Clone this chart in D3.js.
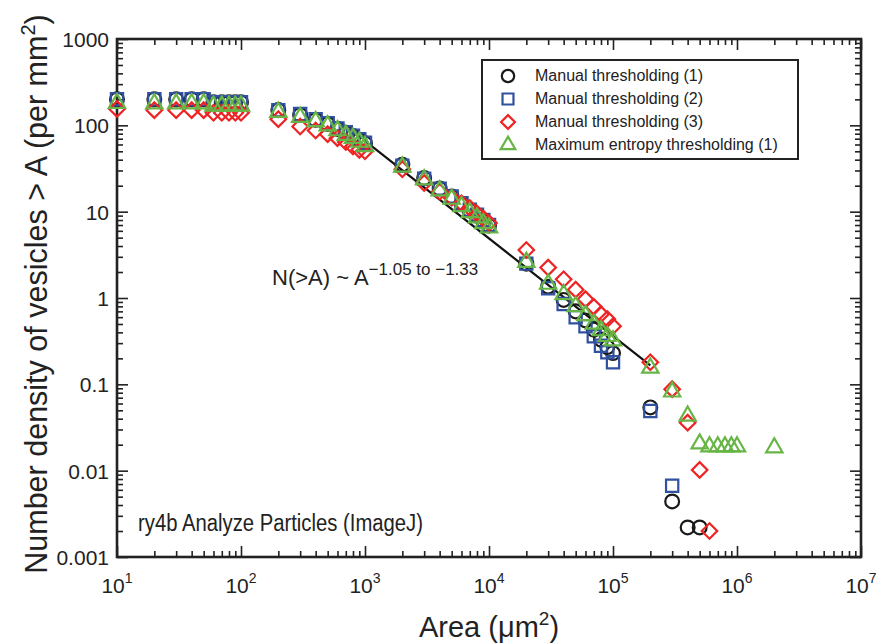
<!DOCTYPE html>
<html>
<head>
<meta charset="utf-8">
<script src="https://cdn.jsdelivr.net/npm/d3@7"></script>
<style>
  body { margin: 0; background: #fff; }
  svg { font-family: "Liberation Sans", Arial, sans-serif; }
</style>
</head>
<body>
<div id="container"></div>
<script>
// area thresholds (um^2) and number density (per mm^2) for each run
let areas_m1 = [10,20,30,40,50,60,70,80,90,100,200,300,400,500,600,700,800,900,1000,
  2000,3000,4000,5000,6000,7000,8000,9000,10000,2e4,3e4,4e4,5e4,6e4,7e4,8e4,9e4,1e5,2e5,3e5,4e5,5e5];
let dens_m1 = [200,200,200,200,200,185,185,185,185,185,150,132,116,104,91,82,75,68,62,
  35,24.5,18.5,15,12.3,10.3,9,7.8,6.9,2.5,1.35,0.95,0.7,0.55,0.43,0.33,0.27,0.23,0.054,0.0044,0.0022,0.0022];

let areas_m2 = [10,20,30,40,50,60,70,80,90,100,200,300,400,500,600,700,800,900,1000,
  2000,3000,4000,5000,6000,7000,8000,9000,10000,2e4,3e4,4e4,5e4,6e4,7e4,8e4,9e4,1e5,2e5,3e5];
let dens_m2 = [200,200,200,200,200,185,185,185,185,185,150,135,118,106,92,83,76,69,63,
  34,24,18.5,15,12.5,10.5,9.2,8,7,2.5,1.3,0.85,0.6,0.47,0.36,0.28,0.235,0.18,0.049,0.0067];

let areas_m3 = [10,20,30,40,50,60,70,80,90,100,200,300,400,500,600,700,800,900,1000,
  2000,3000,4000,5000,6000,7000,8000,9000,10000,2e4,3e4,4e4,5e4,6e4,7e4,8e4,9e4,1e5,2e5,3e5,4e5,5e5,6e5];
let dens_m3 = [155,150,150,150,150,140,140,140,140,140,118,97,87,79,71,64,57,52,50,
  31,21.5,17,14.5,12.5,11,9.5,8.3,7.4,3.6,2.25,1.65,1.25,0.97,0.79,0.65,0.57,0.47,0.18,0.088,0.036,0.0102,0.002];

let areas_me = [10,20,30,40,50,60,70,80,90,100,200,300,400,500,600,700,800,900,1000,
  2000,3000,4000,5000,6000,7000,8000,9000,10000,2e4,3e4,4e4,5e4,6e4,7e4,8e4,9e4,1e5,2e5,3e5,4e5,5e5,
  6e5,7e5,8e5,9e5,1e6,2e6];
let dens_me = [180,178,178,178,178,168,168,168,168,168,142,124,111,99,87,77,71,64,57,
  33,23.5,17.5,14,11.5,9.8,8.5,7.3,6.5,2.6,1.45,1.1,0.8,0.63,0.5,0.42,0.36,0.32,0.155,0.082,0.043,0.0205,
  0.019,0.019,0.019,0.019,0.019,0.0185];

// power-law fit line end points
let fit_areas = [1000, 2e5];
let fit_dens = [66, 0.166];

let series_names = ["Manual thresholding (1)", "Manual thresholding (2)",
  "Manual thresholding (3)", "Maximum entropy thresholding (1)"];

let x_major = [1e1, 1e2, 1e3, 1e4, 1e5, 1e6, 1e7];
let x_exponents = ["1", "2", "3", "4", "5", "6", "7"];
let y_major = [0.001, 0.01, 0.1, 1, 10, 100, 1000];
let y_labels = ["0.001", "0.01", "0.1", "1", "10", "100", "1000"];

let width = 882, height = 644;
let margin = { top: 39, right: 21, bottom: 87, left: 117 };

let svg = d3.select("#container").append("svg")
  .attr("width", width).attr("height", height);

let x = d3.scaleLog().domain([10, 1e7]).range([margin.left, width - margin.right]);
let y = d3.scaleLog().domain([0.001, 1000]).range([height - margin.bottom, margin.top]);

let x_minor = x.ticks().filter(function (d) { return x_major.indexOf(d) < 0; });
let y_minor = y.ticks().filter(function (d) { return !y_major.some(function (m) { return Math.abs(m - d) / m < 1e-6; }); });

function styleAxis(g) {
  g.select(".domain").remove();
  g.selectAll("line").attr("stroke", "#222").attr("stroke-width", 1.6);
  g.selectAll("text").remove();
}

let x0 = height - margin.bottom, x1 = margin.top;
let y0 = margin.left, y1 = width - margin.right;

// inward ticks on all four sides
svg.append("g").attr("transform", "translate(0," + x0 + ")")
  .call(d3.axisBottom(x).tickValues(x_major).tickSize(-11)).call(styleAxis);
svg.append("g").attr("transform", "translate(0," + x0 + ")")
  .call(d3.axisBottom(x).tickValues(x_minor).tickSize(-6)).call(styleAxis);
svg.append("g").attr("transform", "translate(0," + x1 + ")")
  .call(d3.axisTop(x).tickValues(x_major).tickSize(-11)).call(styleAxis);
svg.append("g").attr("transform", "translate(0," + x1 + ")")
  .call(d3.axisTop(x).tickValues(x_minor).tickSize(-6)).call(styleAxis);
svg.append("g").attr("transform", "translate(" + y0 + ",0)")
  .call(d3.axisLeft(y).tickValues(y_major).tickSize(-11)).call(styleAxis);
svg.append("g").attr("transform", "translate(" + y0 + ",0)")
  .call(d3.axisLeft(y).tickValues(y_minor).tickSize(-6)).call(styleAxis);
svg.append("g").attr("transform", "translate(" + y1 + ",0)")
  .call(d3.axisRight(y).tickValues(y_major).tickSize(-11)).call(styleAxis);
svg.append("g").attr("transform", "translate(" + y1 + ",0)")
  .call(d3.axisRight(y).tickValues(y_minor).tickSize(-6)).call(styleAxis);

svg.append("rect")
  .attr("x", y0).attr("y", x1)
  .attr("width", y1 - y0).attr("height", x0 - x1)
  .attr("fill", "none").attr("stroke", "#222").attr("stroke-width", 2.6);

// tick labels
let xl = svg.append("g").selectAll("text").data(x_major).enter().append("text")
  .attr("x", function (d) { return x(d); })
  .attr("y", x0 + 36)
  .attr("text-anchor", "middle")
  .attr("font-size", 21)
  .attr("fill", "#222");
xl.append("tspan").text("10");
xl.append("tspan").attr("dy", -10).attr("font-size", 14)
  .text(function (d, i) { return x_exponents[i]; });

svg.append("g").selectAll("text").data(y_major).enter().append("text")
  .attr("x", y0 - 8)
  .attr("y", function (d) { return y(d) + 8; })
  .attr("text-anchor", "end")
  .attr("font-size", 21)
  .attr("fill", "#222")
  .text(function (d, i) { return y_labels[i]; });

// axis titles
let xt = svg.append("text")
  .attr("x", 489).attr("y", 637)
  .attr("text-anchor", "middle").attr("font-size", 29).attr("fill", "#222");
xt.append("tspan").text("Area (\u03bcm");
xt.append("tspan").attr("dy", -12).attr("font-size", 19).text("2");
xt.append("tspan").attr("dy", 12).text(")");

let yt = svg.append("text")
  .attr("transform", "translate(47," + ((x0 + x1) / 2 - 4) + ") rotate(-90)")
  .attr("text-anchor", "middle").attr("font-size", 30.5).attr("fill", "#222");
yt.append("tspan").text("Number density of vesicles > A (per mm");
yt.append("tspan").attr("dy", -12).attr("font-size", 20).text("2");
yt.append("tspan").attr("dy", 12).text(")");

// fit line
let line = d3.line()
  .x(function (d) { return x(d[0]); })
  .y(function (d) { return y(d[1]); });
svg.append("path")
  .datum(d3.zip(fit_areas, fit_dens))
  .attr("d", line)
  .attr("fill", "none").attr("stroke", "#111").attr("stroke-width", 2.2);

let series = [
  { a: areas_m1, n: dens_m1, shape: d3.symbolCircle, size: 150, color: "#1a1a1a" },
  { a: areas_m2, n: dens_m2, shape: d3.symbolSquare, size: 150, color: "#3050a0" },
  { a: areas_m3, n: dens_m3, shape: d3.symbolSquare, size: 120, color: "#ee2424", rot: 45 },
  { a: areas_me, n: dens_me, shape: d3.symbolTriangle, size: 115, color: "#66b545" }
];

series.forEach(function (s) {
  let sym = d3.symbol().type(s.shape).size(s.size);
  svg.append("g").selectAll("path")
    .data(d3.zip(s.a, s.n))
    .enter().append("path")
    .attr("d", sym)
    .attr("transform", function (d) {
      return "translate(" + x(d[0]) + "," + y(d[1]) + ")" + (s.rot ? " rotate(" + s.rot + ")" : "");
    })
    .attr("fill", "none")
    .attr("stroke", s.color)
    .attr("stroke-width", 2.2);
});

// annotation
let ann = svg.append("text").attr("x", 272).attr("y", 285)
  .attr("font-size", 22).attr("fill", "#222");
ann.append("tspan").text("N(>A) ~ A");
ann.append("tspan").attr("dy", -10).attr("font-size", 17).text("\u22121.05 to \u22121.33");

svg.append("text").attr("x", 138).attr("y", 531)
  .attr("font-size", 23).attr("fill", "#222")
  .attr("textLength", 285).attr("lengthAdjust", "spacingAndGlyphs")
  .text("ry4b Analyze Particles (ImageJ)");

// legend
let lg = svg.append("g");
lg.append("rect").attr("x", 482).attr("y", 60).attr("width", 316).attr("height", 99)
  .attr("fill", "#fff").attr("stroke", "#222").attr("stroke-width", 2);
series.forEach(function (s, i) {
  let yy = 76 + i * 23;
  lg.append("path")
    .attr("d", d3.symbol().type(s.shape).size(s.size * 0.8))
    .attr("transform", "translate(508," + yy + ")" + (s.rot ? " rotate(" + s.rot + ")" : ""))
    .attr("fill", "none").attr("stroke", s.color).attr("stroke-width", 2.2);
  lg.append("text").attr("x", 535).attr("y", yy + 5)
    .attr("font-size", 16).attr("fill", "#222").text(series_names[i]);
});
</script>
</body>
</html>
